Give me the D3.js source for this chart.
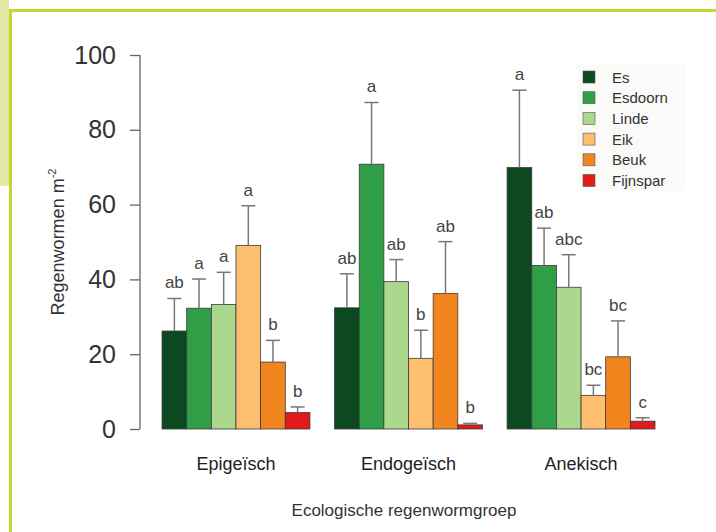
<!DOCTYPE html>
<html>
<head>
<meta charset="utf-8">
<script src="https://cdn.jsdelivr.net/npm/d3@7"></script>
<style>
  body { margin: 0; background: #fff; }
  svg { display: block; }
  text { font-family: "Liberation Sans", Arial, sans-serif; fill: #333; }
</style>
</head>
<body>
<svg id="chart" width="716" height="532"></svg>
<script>
// data
const groups = ["Epigeïsch", "Endogeïsch", "Anekisch"];
const species = ["Es", "Esdoorn", "Linde", "Eik", "Beuk", "Fijnspar"];
const speciesColors = ["#0c4820", "#2f9e47", "#acd88d", "#fdbf6f", "#f3851f", "#e31a1c"];

const epigeisch = [26.2, 32.3, 33.3, 49.1, 17.9, 4.4];
const endogeisch = [32.4, 70.8, 39.4, 18.9, 36.2, 1.1];
const anekisch = [69.9, 43.7, 37.9, 9.0, 19.3, 2.1];

const epigeischSE = [8.7, 7.8, 8.6, 10.6, 5.8, 1.5];
const endogeischSE = [9.1, 16.5, 5.9, 7.5, 13.9, 0.4];
const anekischSE = [20.7, 10.0, 8.7, 2.7, 9.6, 0.9];

const epigeischLetters = ["ab", "a", "a", "a", "b", "b"];
const endogeischLetters = ["ab", "a", "ab", "b", "ab", "b"];
const anekischLetters = ["a", "ab", "abc", "bc", "bc", "c"];

const yTicks = [0, 20, 40, 60, 80, 100];

const values = [epigeisch, endogeisch, anekisch];
const errors = [epigeischSE, endogeischSE, anekischSE];
const letters = [epigeischLetters, endogeischLetters, anekischLetters];

const svg = d3.select("#chart");

// page frame
svg.append("rect").attr("x", 0).attr("y", 0).attr("width", 9).attr("height", 186).attr("fill", "#e3e7a8");
svg.append("rect").attr("x", 9).attr("y", 9).attr("width", 707).attr("height", 3).attr("fill", "#c7d62d");
svg.append("rect").attr("x", 9).attr("y", 9).attr("width", 3).attr("height", 523).attr("fill", "#c7d62d");

// scales: each group is 6 bars plus one bar of space in front of it
const x = d3.scaleLinear().domain([0, 21]).range([137.4, 655]);
const y = d3.scaleLinear().domain([0, 100]).range([429, 55]);

const bars = [];
values.forEach((vals, g) => {
  vals.forEach((v, s) => {
    bars.push({ g, s, v, se: errors[g][s], lab: letters[g][s] });
  });
});
const unit = (d) => 1 + 7 * d.g + d.s;
const bw = x(1) - x(0);

// y axis
const yAxis = d3.axisLeft(y).tickValues(yTicks).tickSize(10).tickPadding(14);
const ya = svg.append("g").attr("transform", "translate(140,0)").call(yAxis);
ya.select(".domain").remove();
ya.selectAll(".tick line").attr("stroke", "#666").attr("stroke-width", 1.3);
ya.selectAll(".tick text").style("font-size", "25px").style("fill", "#333");
ya.append("line").attr("x1", 0).attr("x2", 0).attr("y1", y(0)).attr("y2", y(100))
  .attr("stroke", "#666").attr("stroke-width", 1.3);

// bars
svg.append("g").selectAll("rect").data(bars).join("rect")
  .attr("x", (d) => x(unit(d)))
  .attr("y", (d) => y(d.v))
  .attr("width", bw)
  .attr("height", (d) => y(0) - y(d.v))
  .attr("fill", (d) => speciesColors[d.s])
  .attr("stroke", "#3a3a3a")
  .attr("stroke-width", 0.8);

// error bars
const eb = svg.append("g").attr("stroke", "#777").attr("stroke-width", 1.5);
eb.selectAll("line.v").data(bars).join("line").attr("class", "v")
  .attr("x1", (d) => x(unit(d) + 0.5)).attr("x2", (d) => x(unit(d) + 0.5))
  .attr("y1", (d) => y(d.v)).attr("y2", (d) => y(d.v + d.se));
eb.selectAll("line.c").data(bars).join("line").attr("class", "c")
  .attr("x1", (d) => x(unit(d) + 0.5) - 7).attr("x2", (d) => x(unit(d) + 0.5) + 7)
  .attr("y1", (d) => y(d.v + d.se)).attr("y2", (d) => y(d.v + d.se));

// significance letters
svg.append("g").selectAll("text").data(bars).join("text")
  .attr("x", (d) => x(unit(d) + 0.5))
  .attr("y", (d) => y(d.v + d.se) - 10)
  .attr("text-anchor", "middle")
  .style("font-size", "17px")
  .style("fill", "#444")
  .text((d) => d.lab);

// group labels
svg.append("g").selectAll("text").data(groups).join("text")
  .attr("x", (d, i) => x(1 + 7 * i + 3))
  .attr("y", 470)
  .attr("text-anchor", "middle")
  .style("font-size", "18px")
  .style("fill", "#222")
  .text((d) => d);

// axis titles
svg.append("text")
  .attr("x", 404).attr("y", 516)
  .attr("text-anchor", "middle")
  .style("font-size", "17px")
  .style("fill", "#333")
  .text("Ecologische regenwormgroep");

const yt = svg.append("text")
  .attr("transform", "translate(64,242) rotate(-90)")
  .attr("text-anchor", "middle")
  .style("font-size", "18px")
  .style("fill", "#333");
yt.append("tspan").text("Regenwormen m");
yt.append("tspan").attr("dy", -8).style("font-size", "11px").text("-2");

// legend
const legend = svg.append("g");
legend.append("rect").attr("x", 577).attr("y", 63).attr("width", 108).attr("height", 128).attr("fill", "#fafaf8");
const li = legend.selectAll("g.item").data(species).join("g").attr("class", "item")
  .attr("transform", (d, i) => `translate(583,${77 + i * 20.7})`);
li.append("rect").attr("x", 0).attr("y", -6).attr("width", 12).attr("height", 12)
  .attr("fill", (d, i) => speciesColors[i]).attr("stroke", "#555").attr("stroke-width", 0.6);
li.append("text").attr("x", 29).attr("y", 5.5)
  .style("font-size", "15px").style("fill", "#333")
  .text((d) => d);
</script>
</body>
</html>
